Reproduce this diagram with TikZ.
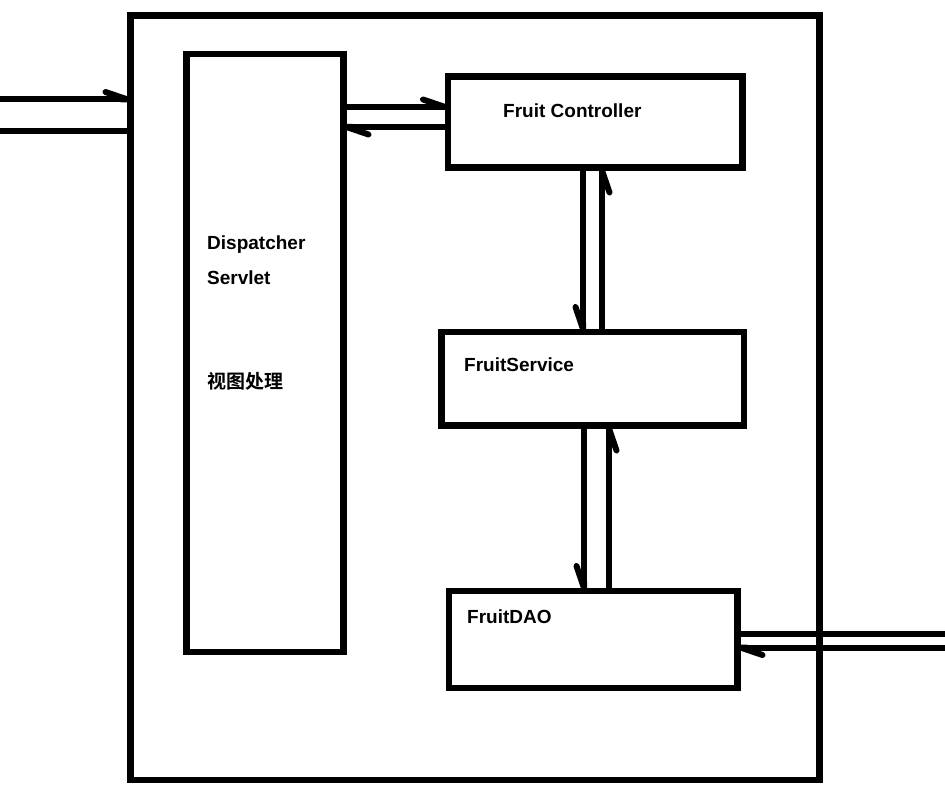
\documentclass[tikz,border=0pt]{standalone}
\usepackage{fontspec}
\setmainfont{Liberation Sans}
\newfontfamily\cjk{Noto Sans CJK SC}[BoldFont={Noto Sans CJK SC Bold}]
\usetikzlibrary{arrows.meta}

\begin{document}
\begin{tikzpicture}[x=1pt,y=-1pt,
		box/.style={draw=black,line width=6.5pt,inner sep=0pt,outer sep=0pt,anchor=north west},
		flow/.style={draw=black,line width=6pt},
		barb/.style={flow,-{Straight Barb[left,round,length=22pt,width=15pt]}},
		barbr/.style={flow,-{Straight Barb[right,round,length=22pt,width=15pt]}},
		lbl/.style={font=\fontsize{19}{22}\selectfont\bfseries,anchor=base west},
		cjklbl/.style={font=\cjk\fontsize{19}{22}\selectfont\bfseries,anchor=base west}]
	\tikzstyle{every node}+=[inner sep=0pt]
	\useasboundingbox (0,0) rectangle (945,789);
	\node[box,minimum width=689pt,minimum height=764.5pt] (app) at (130.5,15.5) {};
	\node[box,minimum width=157pt,minimum height=598pt] (ds) at (186.5,54) {};
	\node[box,minimum width=294.5pt,minimum height=91pt] (fc) at (448,76.5) {};
	\node[box,minimum width=302.5pt,minimum height=93.5pt] (fs) at (441.5,332) {};
	\node[box,minimum width=288.5pt,minimum height=97pt] (dao) at (449,591) {};
	\node[lbl] (dsname) at (207,249) {Dispatcher};
	\node[lbl] (dsname2) at (207,284) {Servlet};
	\node[cjklbl] (dsview) at (207,388) {视图处理};
	\node[lbl] (fcname) at (503,118) {Fruit Controller};
	\node[lbl] (fsname) at (464,371) {FruitService};
	\node[lbl] (daoname) at (467,623) {FruitDAO};
	\coordinate (in1) at (0,99.5);
	\coordinate (in2) at (0,131.5);
	\coordinate (out1) at (945,634);
	\coordinate (out2) at (945,647.5);
	\draw[barb] (in1) -- (app.west |- in1);
	\draw[flow] (in2) -- (app.west |- in2);
	\draw[barb] (ds.east |- 0,107) -- (fc.west |- 0,107);
	\draw[barb] (fc.west |- 0,127) -- (ds.east |- 0,127);
	\draw[barbr] (fc.south -| 583,0) -- (fs.north -| 583,0);
	\draw[barbr] (fs.north -| 602,0) -- (fc.south -| 602,0);
	\draw[barbr] (fs.south -| 584,0) -- (dao.north -| 584,0);
	\draw[barbr] (dao.north -| 609,0) -- (fs.south -| 609,0);
	\draw[flow] (out1) -- (dao.east |- out1);
	\draw[barb] (out2) -- (dao.east |- out2);
\end{tikzpicture}
\end{document}
